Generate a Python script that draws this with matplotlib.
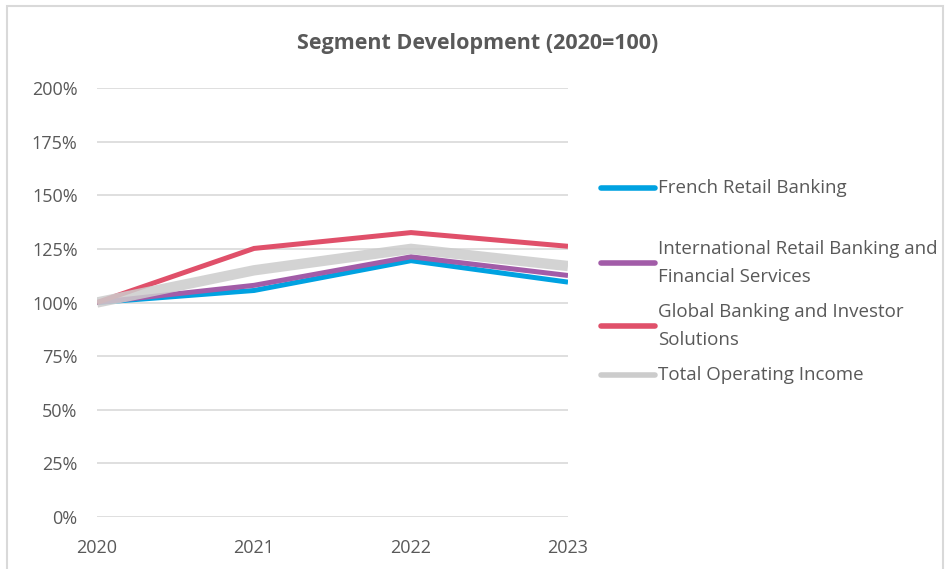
import matplotlib
matplotlib.use('Agg')
import matplotlib.pyplot as plt
from matplotlib.lines import Line2D
from matplotlib.patches import Rectangle
from matplotlib.ticker import FuncFormatter

plt.rcParams['font.family'] = ['Open Sans', 'DejaVu Sans']

years = [2020, 2021, 2022, 2023]
french_retail = [100, 105.6, 119.5, 109.5]
intl_retail = [100, 108.0, 121.3, 112.6]
global_banking = [100, 125.2, 132.6, 126.2]
total_income = [100, 115.0, 125.0, 117.0]

labels = ['French Retail Banking',
          'International Retail Banking and\nFinancial Services',
          'Global Banking and Investor\nSolutions',
          'Total Operating Income']
colors = ['#00a2e1', '#a25ca8', '#e0506a', '#cccccc']
series = [french_retail, intl_retail, global_banking, total_income]
widths = [3.6, 3.6, 3.6, 7.5]

txt = '#595959'
fig = plt.figure(figsize=(9.46, 5.69), dpi=100)
fig.patches.append(Rectangle((7/946, -0.01), 936/946, 1 - 6/569 + 0.01,
                             transform=fig.transFigure, fill=False,
                             edgecolor='#d9d9d9', linewidth=1.5))

ax = fig.add_axes([97/946, 1 - 517/569, (568 - 97)/946, (517 - 88)/569])

for vals, c, w in zip(series, colors, widths):
    alpha = 0.85 if c == '#cccccc' else 1
    ax.plot(years, vals, color=c, lw=w, alpha=alpha, solid_capstyle='butt',
            solid_joinstyle='miter', zorder=3)

ax.set_ylim(0, 200)
ax.set_xlim(2020, 2023)
ax.set_yticks(range(0, 201, 25))
ax.yaxis.set_major_formatter(FuncFormatter(lambda v, p: f'{v:.0f}%'))
ax.set_xticks(years)
ax.grid(axis='y', color='#d9d9d9', lw=1.2, zorder=0)
for s in ax.spines.values():
    s.set_visible(False)
ax.tick_params(axis='y', length=0, pad=14, labelsize=13, labelcolor=txt)
ax.tick_params(axis='x', length=0, pad=16, labelsize=13, labelcolor=txt)

fig.text(478/946, 1 - 44/569, 'Segment Development (2020=100)', ha='center',
         va='center', fontsize=15.5, fontweight='bold', color=txt)

# legend drawn by hand, Excel-style spacing
leg_y = [188, 263, 326, 375]
for lab, c, y in zip(labels, colors, leg_y):
    fy = 1 - y/569
    fig.add_artist(Line2D([601/946, 655/946], [fy, fy], color=c, lw=4,
                          solid_capstyle='round', transform=fig.transFigure))
    fig.text(658/946, fy, lab, ha='left', va='center', fontsize=13.5,
             color=txt, linespacing=1.7)

fig.savefig('out.png', dpi=100)
